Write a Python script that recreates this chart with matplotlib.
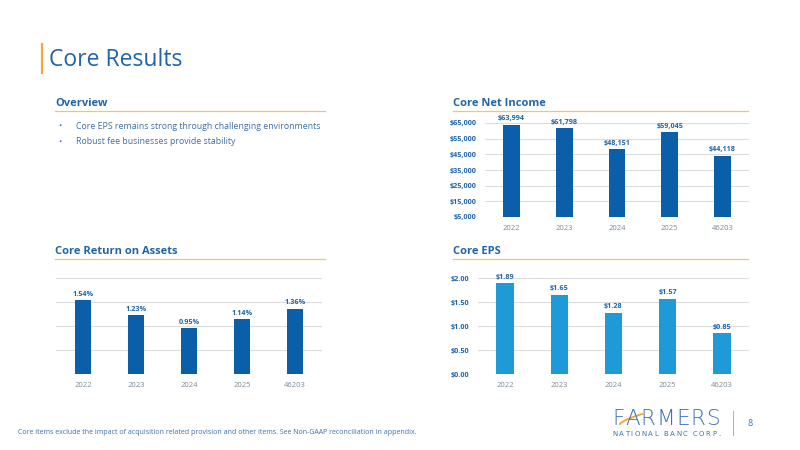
import matplotlib
matplotlib.use("Agg")
import matplotlib.pyplot as plt
from matplotlib.lines import Line2D
import numpy as np

plt.rcParams['font.family'] = ['Open Sans', 'DejaVu Sans']

categories = ["2022", "2023", "2024", "2025", "46203"]
net_income = [63994, 61798, 48151, 59045, 44118]
net_income_labels = ["$63,994", "$61,798", "$48,151", "$59,045", "$44,118"]
roa = [1.54, 1.23, 0.95, 1.14, 1.36]
roa_labels = ["1.54%", "1.23%", "0.95%", "1.14%", "1.36%"]
eps = [1.89, 1.65, 1.28, 1.57, 0.85]
eps_labels = ["$1.89", "$1.65", "$1.28", "$1.57", "$0.85"]
ni_ticks = [5000, 15000, 25000, 35000, 45000, 55000, 65000]
ni_tick_labels = ["$5,000", "$15,000", "$25,000", "$35,000", "$45,000", "$55,000", "$65,000"]
eps_ticks = [0.0, 0.5, 1.0, 1.5, 2.0]
eps_tick_labels = ["$0.00", "$0.50", "$1.00", "$1.50", "$2.00"]
roa_ticks = [0.0, 0.5, 1.0, 1.5, 2.0]

W, H = 800, 450
DARK = "#0A5FA8"
LIGHT = "#1E9BD7"
TITLE = "#1F64AA"
ORANGE = "#F5C46E"
GRID = "#DCDCDC"
CAT = "#7A8A99"

fig = plt.figure(figsize=(8, 4.5), dpi=100)
fig.patch.set_facecolor("white")


def px_axes(x0, x1, ytop, ybot):
    return fig.add_axes([x0 / W, 1 - ybot / H, (x1 - x0) / W, (ybot - ytop) / H])


def fx(x):
    return x / W


def fy(y):
    return 1 - y / H


def bar_chart(ax, values, labels, color, ylim, ticks, ticklabels=None):
    x = list(range(len(categories)))
    ax.bar(x, values, width=0.32, color=color, zorder=3)
    ax.set_xlim(-0.5, len(categories) - 0.5)
    ax.set_ylim(*ylim)
    ax.set_yticks(ticks)
    for t in ticks:
        ax.axhline(t, color=GRID, lw=0.8, zorder=1)
    if ticklabels is not None:
        ax.set_yticklabels(ticklabels, fontsize=5.2, color=TITLE, fontweight="bold")
    else:
        ax.set_yticklabels([])
    ax.tick_params(axis="y", length=0, pad=6)
    ax.set_xticks(x)
    ax.set_xticklabels(categories, fontsize=5.5, color=CAT)
    ax.tick_params(axis="x", length=0, pad=6)
    for s in ax.spines.values():
        s.set_visible(False)
    span = ylim[1] - ylim[0]
    for xi, v, lab in zip(x, values, labels):
        ax.text(xi, v + span * 0.025, lab, ha="center", va="bottom", fontsize=5.2,
                color=TITLE, fontweight="bold", clip_on=False)


ax1 = px_axes(485, 749, 123, 217)
bar_chart(ax1, net_income, net_income_labels, DARK, (5000, 65000), ni_ticks, ni_tick_labels)

ax2 = px_axes(56.5, 321.5, 278, 374)
bar_chart(ax2, roa, roa_labels, DARK, (0, 2.0), roa_ticks, None)

ax3 = px_axes(478, 749, 278, 374)
bar_chart(ax3, eps, eps_labels, LIGHT, (0, 2.0), eps_ticks, eps_tick_labels)

fig.add_artist(Line2D([fx(42), fx(42)], [fy(44), fy(73)], color="#F2A93B", lw=1.6))
fig.text(fx(49), fy(66), "Core Results", fontsize=16.5, color=TITLE, va="baseline", ha="left")


def header(x, y, text, x_end):
    fig.text(fx(x), fy(y), text, fontsize=8, color=TITLE, fontweight="bold", va="baseline", ha="left")
    fig.add_artist(Line2D([fx(x), fx(x_end)], [fy(y + 5), fy(y + 5)], color=ORANGE, lw=0.9))

header(55, 106, "Overview", 325)
header(453, 106, "Core Net Income", 748)
header(55, 254, "Core Return on Assets", 325)
header(453, 254, "Core EPS", 748)

bullets = ["Core EPS remains strong through challenging environments",
           "Robust fee businesses provide stability"]
for i, b in enumerate(bullets):
    y = 127 + 15 * i
    fig.text(fx(58), fy(y), "•", fontsize=6, color=TITLE, va="center", ha="left")
    fig.text(fx(76), fy(y), b, fontsize=6.3, color="#3D6FA8", va="center", ha="left")

fig.text(fx(18), fy(432),
         "Core items exclude the impact of acquisition related provision and other items. See Non-GAAP reconciliation in appendix.",
         fontsize=5.05, color="#3D6FA8", va="center", ha="left")


def spaced_text(text, x0, x1, y, **kw):
    fig.canvas.draw()
    r = fig.canvas.get_renderer()
    widths = []
    for ch in text:
        t = fig.text(0, 0, ch, **kw)
        widths.append(t.get_window_extent(renderer=r).width if ch != " " else None)
        t.remove()
    sp = fig.text(0, 0, "a a", **kw)
    sa = fig.text(0, 0, "aa", **kw)
    space_w = sp.get_window_extent(renderer=r).width - sa.get_window_extent(renderer=r).width
    sp.remove(); sa.remove()
    widths = [w if w is not None else space_w for w in widths]
    total = sum(widths)
    gap = (x1 - x0 - total) / max(len(text) - 1, 1)
    x = x0
    for ch, w in zip(text, widths):
        fig.text(fx(x), fy(y), ch, va="baseline", ha="left", **kw)
        x += w + gap


spaced_text("FARMERS", 612, 720, 425, fontsize=15.5, color="#3C73B8", fontweight="light",
            family="DejaVu Sans")
spaced_text("NATIONAL BANC CORP.", 612, 720, 436, fontsize=5.0, color="#3C73B8",
            family="DejaVu Sans")
t = np.linspace(0, 1, 30)
fig.add_artist(Line2D(fx(620 + 22 * t), fy(424 - 10 * t ** 0.7), color="#F2A93B", lw=1.4))
fig.add_artist(Line2D([fx(733), fx(733)], [fy(411), fy(435)], color="#9FB3C8", lw=0.7))
fig.text(fx(750), fy(423), "8", fontsize=6.5, color="#3C73B8", va="center", ha="center")

fig.savefig("out.png", dpi=100, facecolor="white")
